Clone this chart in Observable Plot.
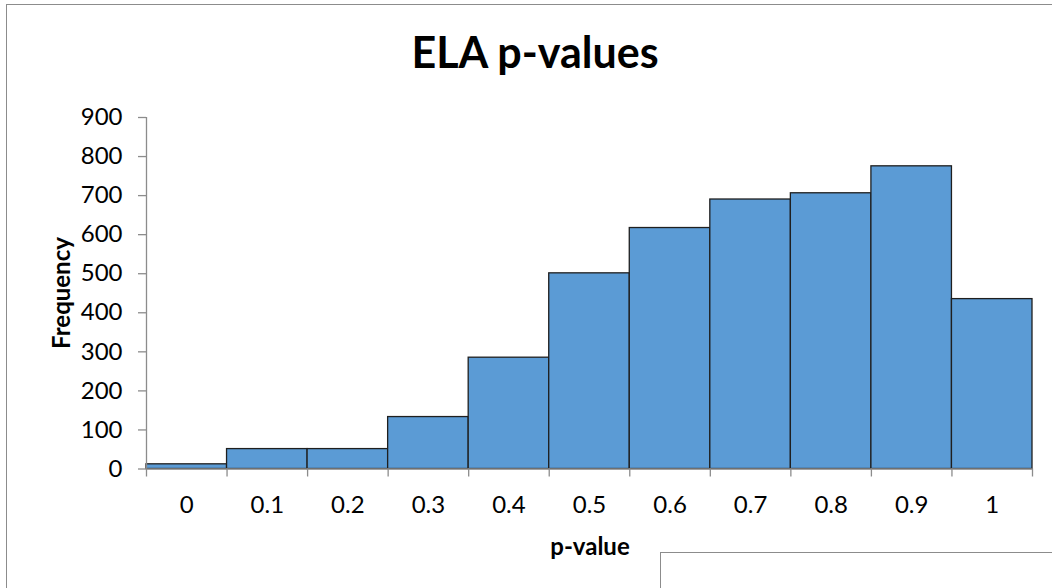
<!DOCTYPE html>
<html>
<head>
<meta charset="utf-8">
<script src="https://cdn.jsdelivr.net/npm/d3@7"></script>
<script src="https://cdn.jsdelivr.net/npm/@observablehq/plot@0.6"></script>
<style>
  html, body { margin: 0; padding: 0; background: #fff; }
  #wrap { position: relative; width: 1052px; height: 588px; overflow: hidden; font-family: Lato, "Open Sans", sans-serif; }
  #frame { position: absolute; left: 6px; top: 4px; width: 1060px; height: 600px; border-left: 1.5px solid #8c8c8c; border-top: 1.5px solid #8c8c8c; }
  #box { position: absolute; left: 660px; top: 552px; width: 420px; height: 60px; border-left: 1.5px solid #8c8c8c; border-top: 1.5px solid #8c8c8c; background: #fff; }
  #title { position: absolute; left: 0; width: 1070px; top: 26px; text-align: center; font-weight: bold; font-size: 43px; color: #000; }
  #ylab { position: absolute; left: 60px; top: 293px; transform: translate(-50%, -50%) rotate(-90deg); font-weight: bold; font-size: 24px; white-space: nowrap; color: #000; }
  #xlab { position: absolute; left: 590px; top: 545px; transform: translate(-50%, -50%); font-weight: bold; font-size: 24px; white-space: nowrap; color: #000; }
  #chart { position: absolute; left: 0; top: 0; }
</style>
</head>
<body>
<div id="wrap">
  <div id="frame"></div>
  <div id="chart"></div>
  <div id="title">ELA p-values</div>
  <div id="ylab">Frequency</div>
  <div id="xlab">p-value</div>
  <div id="box"></div>
</div>
<script>
// Histogram bins (p-value labels) and their frequencies
const binLabels = ["0", "0.1", "0.2", "0.3", "0.4", "0.5", "0.6", "0.7", "0.8", "0.9", "1"];
const frequencies = [12, 51, 51, 133, 285, 501, 617, 690, 706, 775, 435];
const yTicks = [0, 100, 200, 300, 400, 500, 600, 700, 800, 900];

const bins = binLabels.map((label, i) => ({ label, i, freq: frequencies[i] }));
const edges = d3.range(binLabels.length + 1);
const centers = binLabels.map((_, i) => i + 0.5);

const axisGrey = "#8c8c8c";

const chart = Plot.plot({
  width: 1052,
  height: 588,
  marginLeft: 146,
  marginRight: 20,
  marginTop: 117,
  marginBottom: 119.5,
  style: { fontFamily: "Lato, 'Open Sans', sans-serif", fontSize: "24px", color: "#000", background: "transparent", overflow: "visible" },
  x: { domain: [0, binLabels.length] },
  y: { domain: [0, 900] },
  marks: [
    Plot.rectY(bins, { x1: "i", x2: d => d.i + 1, y: "freq", fill: "#5b9bd5", stroke: "#1f1f1f", strokeWidth: 1.3 }),
    Plot.ruleX([0], { stroke: axisGrey, strokeWidth: 1.3 }),
    Plot.ruleY([0], { stroke: axisGrey, strokeWidth: 1.3 }),
    Plot.axisY({ ticks: yTicks, tickSize: 8, tickPadding: 16, label: null, stroke: axisGrey, strokeWidth: 1.3, fill: "#000" }),
    Plot.axisX({ ticks: edges, tickSize: 8, tickFormat: () => "", label: null, stroke: axisGrey, strokeWidth: 1.3 }),
    Plot.axisX({ ticks: centers, tickSize: 0, tickPadding: 27, tickFormat: v => binLabels[Math.round(v - 0.5)], label: null, fill: "#000" })
  ]
});
document.getElementById("chart").appendChild(chart);
</script>
</body>
</html>
